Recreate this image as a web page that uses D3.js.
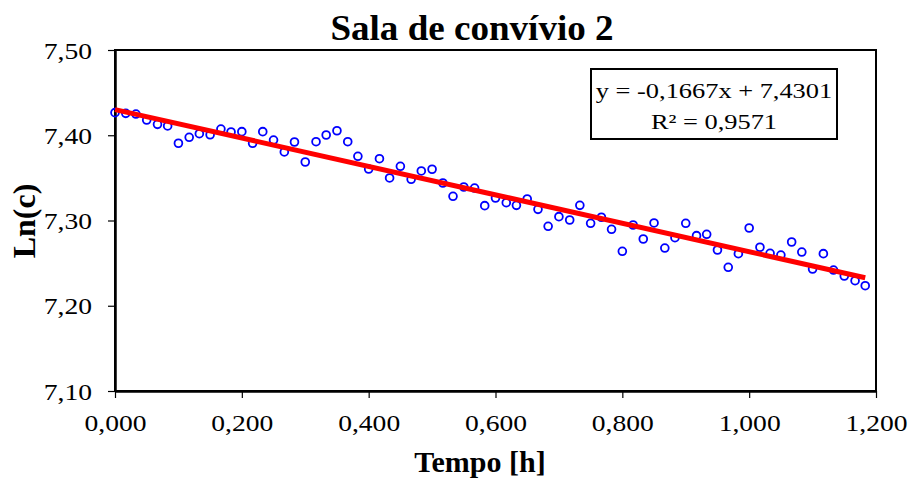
<!DOCTYPE html>
<html>
<head>
<meta charset="utf-8">
<script src="https://cdn.jsdelivr.net/npm/d3@7"></script>
<style>
  html, body { margin: 0; padding: 0; background: #fff; }
  svg { display: block; }
  text { font-family: "Liberation Serif", "Times New Roman", serif; fill: #000; }
</style>
</head>
<body>
<svg id="chart" width="909" height="479"></svg>
<script>
// ---- data ----
const chartTitle = "Sala de convívio 2";
const xTitle = "Tempo [h]";
const yTitle = "Ln(c)";
const times = [0.000, 0.017, 0.033, 0.050, 0.067, 0.083, 0.100, 0.117, 0.133, 0.150,
  0.167, 0.183, 0.200, 0.217, 0.233, 0.250, 0.267, 0.283, 0.300, 0.317,
  0.333, 0.350, 0.367, 0.383, 0.400, 0.417, 0.433, 0.450, 0.467, 0.483,
  0.500, 0.517, 0.533, 0.550, 0.567, 0.583, 0.600, 0.617, 0.633, 0.650,
  0.667, 0.683, 0.700, 0.717, 0.733, 0.750, 0.767, 0.783, 0.800, 0.817,
  0.833, 0.850, 0.867, 0.883, 0.900, 0.917, 0.933, 0.950, 0.967, 0.983,
  1.000, 1.017, 1.033, 1.050, 1.067, 1.083, 1.100, 1.117, 1.133, 1.150,
  1.167, 1.183];
const lnc = [7.4265, 7.4257, 7.4249, 7.4179, 7.4128, 7.4109, 7.3906, 7.3976, 7.4018, 7.4006,
  7.4073, 7.4038, 7.4042, 7.3906, 7.4042, 7.3944, 7.3804, 7.3921, 7.3686, 7.3924,
  7.4003, 7.4053, 7.3924, 7.3753, 7.3604, 7.3725, 7.3499, 7.3636, 7.3483, 7.3581,
  7.3601, 7.3440, 7.3284, 7.3393, 7.3381, 7.3174, 7.3264, 7.3209, 7.3178, 7.3252,
  7.3131, 7.2932, 7.3045, 7.3006, 7.3178, 7.2967, 7.3038, 7.2897, 7.2639, 7.2947,
  7.2783, 7.2971, 7.2677, 7.2798, 7.2967, 7.2822, 7.2838, 7.2654, 7.2451, 7.2611,
  7.2912, 7.2686, 7.2615, 7.2595, 7.2748, 7.2630, 7.2431, 7.2611, 7.2419, 7.2349,
  7.2294, 7.2235];
const trendSlope = -0.1667;
const trendIntercept = 7.4301;
const rSquared = 0.9571;
const xTicks = [0, 0.2, 0.4, 0.6, 0.8, 1.0, 1.2];
const yTicks = [7.1, 7.2, 7.3, 7.4, 7.5];
const equationLines = ["y = -0,1667x + 7,4301", "R² = 0,9571"];

// ---- layout ----
const W = 909, H = 479;
const plot = { left: 115, right: 876, top: 50, bottom: 391 };
const SX = 1.2; // horizontal glyph stretch of the regular text in the reference

const svg = d3.select("#chart");
const locale = d3.formatLocale({ decimal: ",", thousands: ".", grouping: [3], currency: ["", ""] });
const fx = locale.format(".3f");
const fy = locale.format(".2f");

const x = d3.scaleLinear().domain([0, 1.2]).range([plot.left, plot.right]);
const y = d3.scaleLinear().domain([7.1, 7.5]).range([plot.bottom, plot.top]);

// plot background + border
svg.append("rect")
  .attr("x", plot.left).attr("y", plot.top)
  .attr("width", plot.right - plot.left).attr("height", plot.bottom - plot.top)
  .attr("fill", "#fff").attr("stroke", "#000").attr("stroke-width", 2);

// axes
const xAxis = svg.append("g")
  .attr("transform", `translate(0,${plot.bottom})`)
  .call(d3.axisBottom(x).tickValues(xTicks).tickSize(7).tickSizeOuter(0).tickFormat(fx));
const yAxis = svg.append("g")
  .attr("transform", `translate(${plot.left},0)`)
  .call(d3.axisLeft(y).tickValues(yTicks).tickSize(7).tickSizeOuter(0).tickFormat(fy));

[xAxis, yAxis].forEach(g => {
  g.select(".domain").attr("stroke", "#000").attr("stroke-width", 2.5);
  g.selectAll(".tick line").attr("stroke", "#000").attr("stroke-width", 1.2);
  g.selectAll(".tick text")
    .attr("font-family", "Liberation Serif, Times New Roman, serif")
    .attr("font-size", 23).attr("fill", "#000");
});
xAxis.selectAll(".tick text")
  .attr("x", 0).attr("y", 0).attr("dy", null)
  .attr("text-anchor", "middle")
  .attr("transform", `translate(0,40) scale(${SX},1)`);
yAxis.selectAll(".tick text")
  .attr("x", 0).attr("y", 0).attr("dy", "0.35em")
  .attr("text-anchor", "end")
  .attr("transform", `translate(-23,0) scale(${SX},1)`);

// data points
svg.append("g")
  .selectAll("circle")
  .data(times.map((t, i) => [t, lnc[i]]))
  .join("circle")
  .attr("cx", d => x(d[0]))
  .attr("cy", d => y(d[1]))
  .attr("r", 3.9)
  .attr("fill", "none")
  .attr("stroke", "#0000ff")
  .attr("stroke-width", 1.8);

// linear trend line
const tEnds = [times[0], times[times.length - 1]];
svg.append("path")
  .datum(tEnds.map(t => [t, trendSlope * t + trendIntercept]))
  .attr("d", d3.line().x(d => x(d[0])).y(d => y(d[1])))
  .attr("stroke", "#ff0000")
  .attr("stroke-width", 5)
  .attr("fill", "none");

// equation box
const box = { x: 591, y: 69, w: 246, h: 70 };
svg.append("rect")
  .attr("x", box.x).attr("y", box.y).attr("width", box.w).attr("height", box.h)
  .attr("fill", "#fff").attr("stroke", "#000").attr("stroke-width", 2);
const eqBase = [97.5, 128.5];
equationLines.forEach((s, i) => {
  svg.append("text")
    .attr("transform", `translate(${box.x + box.w / 2},${eqBase[i]}) scale(${SX},1)`)
    .attr("text-anchor", "middle")
    .attr("font-size", 22)
    .text(s);
});

// titles
svg.append("text")
  .attr("transform", `translate(472,40) scale(1.03,1)`)
  .attr("text-anchor", "middle")
  .attr("font-size", 36).attr("font-weight", "bold")
  .text(chartTitle);
svg.append("text")
  .attr("transform", `translate(480,472)`)
  .attr("text-anchor", "middle")
  .attr("font-size", 30).attr("font-weight", "bold")
  .text(xTitle);
svg.append("text")
  .attr("transform", `translate(35,221) rotate(-90)`)
  .attr("text-anchor", "middle")
  .attr("font-size", 32).attr("font-weight", "bold")
  .text(yTitle);
</script>
</body>
</html>
